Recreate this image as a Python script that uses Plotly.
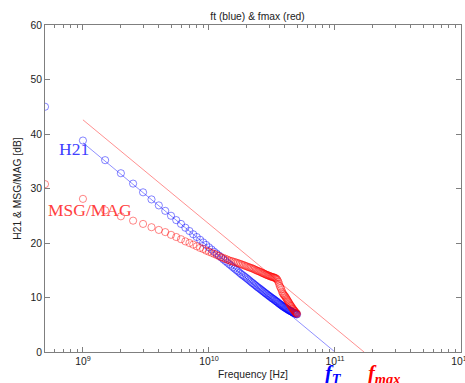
import plotly.graph_objects as go

# Frequencies in GHz (0.5 GHz steps)
freq_ghz = [0.5, 1.0, 1.5, 2.0, 2.5, 3.0, 3.5, 4.0, 4.5, 5.0,
            5.5, 6.0, 6.5, 7.0, 7.5, 8.0, 8.5, 9.0, 9.5, 10.0,
            10.5, 11.0, 11.5, 12.0, 12.5, 13.0, 13.5, 14.0, 14.5, 15.0,
            15.5, 16.0, 16.5, 17.0, 17.5, 18.0, 18.5, 19.0, 19.5, 20.0,
            20.5, 21.0, 21.5, 22.0, 22.5, 23.0, 23.5, 24.0, 24.5, 25.0,
            25.5, 26.0, 26.5, 27.0, 27.5, 28.0, 28.5, 29.0, 29.5, 30.0,
            30.5, 31.0, 31.5, 32.0, 32.5, 33.0, 33.5, 34.0, 34.5, 35.0,
            35.5, 36.0, 36.5, 37.0, 37.5, 38.0, 38.5, 39.0, 39.5, 40.0,
            40.5, 41.0, 41.5, 42.0, 42.5, 43.0, 43.5, 44.0, 44.5, 45.0,
            45.5, 46.0, 46.5, 47.0, 47.5, 48.0, 48.5, 49.0, 49.5, 50.0]

h21_db = [45.0, 38.8, 35.2, 32.8, 30.9, 29.3, 28.0, 26.9, 25.9, 25.0,
          24.2, 23.5, 22.8, 22.2, 21.6, 21.1, 20.6, 20.1, 19.65, 19.2,
          18.8, 18.4, 18.05, 17.7, 17.35, 17.0, 16.7, 16.4, 16.1, 15.85,
          15.55, 15.3, 15.05, 14.8, 14.55, 14.3, 14.1, 13.9, 13.7, 13.5,
          13.3, 13.1, 12.9, 12.7, 12.55, 12.35, 12.2, 12.0, 11.85, 11.7,
          11.55, 11.4, 11.25, 11.1, 10.95, 10.8, 10.7, 10.55, 10.4, 10.3,
          10.15, 10.05, 9.9, 9.8, 9.7, 9.6, 9.45, 9.35, 9.25, 9.15,
          9.0, 8.9, 8.8, 8.7, 8.6, 8.5, 8.4, 8.3, 8.25, 8.15,
          8.05, 8.0, 7.9, 7.85, 7.75, 7.7, 7.6, 7.55, 7.5, 7.45,
          7.4, 7.3, 7.25, 7.2, 7.15, 7.1, 7.05, 7.0, 6.95, 6.9]

msg_mag_db = [30.8, 28.1, 26.0, 24.9, 24.1, 23.5, 22.9, 22.4, 22.0, 21.5,
              21.1, 20.7, 20.3, 20.0, 19.7, 19.4, 19.1, 18.9, 18.6, 18.4,
              18.2, 18.0, 17.8, 17.6, 17.4, 17.25, 17.1, 16.95, 16.8, 16.7,
              16.6, 16.5, 16.4, 16.3, 16.2, 16.1, 16.0, 15.9, 15.8, 15.7,
              15.6, 15.5, 15.45, 15.35, 15.25, 15.15, 15.05, 14.95, 14.85, 14.8,
              14.7, 14.6, 14.5, 14.45, 14.35, 14.25, 14.2, 14.1, 14.05, 14.0,
              13.9, 13.85, 13.8, 13.75, 13.7, 13.65, 13.6, 13.5, 13.4, 13.2,
              12.9, 12.5, 12.1, 11.8, 11.5, 11.1, 10.8, 10.6, 10.4, 10.3,
              10.1, 9.9, 9.7, 9.5, 9.3, 9.1, 8.9, 8.7, 8.5, 8.4,
              8.2, 8.0, 7.9, 7.7, 7.6, 7.5, 7.3, 7.2, 7.1, 7.0]

# Extrapolation lines (-20 dB/dec fits)
ft_line_hz = [1e9, 1e11]
ft_line_db = [38.4, 0.0]
fmax_line_hz = [1e9, 1.7e11]
fmax_line_db = [42.6, 0.0]

x_tick_vals = [1e9, 1e10, 1e11, 1e12]
x_tick_text = ["10<sup>9</sup>", "10<sup>10</sup>", "10<sup>11</sup>", "10<sup>12</sup>"]
y_tick_vals = [0, 10, 20, 30, 40, 50, 60]

freq_hz = [f * 1e9 for f in freq_ghz]

BLUE = "rgba(0,0,255,0.6)"
RED = "rgba(255,0,0,0.6)"

fig = go.Figure()
fig.add_trace(go.Scatter(x=ft_line_hz, y=ft_line_db, mode="lines",
                         line=dict(color="rgba(80,80,255,0.8)", width=0.8),
                         showlegend=False, hoverinfo="skip"))
fig.add_trace(go.Scatter(x=fmax_line_hz, y=fmax_line_db, mode="lines",
                         line=dict(color="rgba(255,80,80,0.8)", width=0.8),
                         showlegend=False, hoverinfo="skip"))
fig.add_trace(go.Scatter(x=freq_hz, y=h21_db, mode="markers", name="H21",
                         marker=dict(symbol="circle-open", size=7.2,
                                     color=BLUE, line=dict(width=0.8, color=BLUE)),
                         showlegend=False))
fig.add_trace(go.Scatter(x=freq_hz, y=msg_mag_db, mode="markers", name="MSG/MAG",
                         marker=dict(symbol="circle-open", size=7.2,
                                     color=RED, line=dict(width=0.8, color=RED)),
                         showlegend=False))

minor_x = [m * 10 ** e for e in range(8, 12) for m in range(2, 10)]
minor_x = [v for v in minor_x if v > 5e8]

axis_col = "#7f7f7f"
fig.update_xaxes(type="log", range=[8.69897, 12.0],
                 tickvals=x_tick_vals, ticktext=x_tick_text,
                 ticks="inside", ticklen=5, tickcolor=axis_col,
                 showline=True, linecolor=axis_col, linewidth=1, mirror="allticks",
                 showgrid=False, zeroline=False,
                 minor=dict(ticks="inside", ticklen=3, tickcolor=axis_col,
                            tickvals=minor_x, showgrid=False),
                 tickfont=dict(family="Liberation Sans", size=10.3, color="#222"),
                 title=dict(text="Frequency [Hz]", standoff=4,
                            font=dict(family="Liberation Sans", size=10.3, color="#222")))
fig.update_yaxes(range=[0, 60], tickvals=y_tick_vals,
                 ticks="inside", ticklen=5, tickcolor=axis_col,
                 showline=True, linecolor=axis_col, linewidth=1, mirror="allticks",
                 showgrid=False, zeroline=False,
                 tickfont=dict(family="Liberation Sans", size=10.3, color="#222"),
                 title=dict(text="H21 & MSG/MAG [dB]", standoff=6,
                            font=dict(family="Liberation Sans", size=10.3, color="#222")))

fig.add_annotation(text="H21", xref="paper", yref="paper", x=0.0704, y=0.621,
                   showarrow=False, xanchor="center", yanchor="middle",
                   font=dict(family="Liberation Serif", size=17.5, color="#4040ff"))
fig.add_annotation(text="MSG/MAG", xref="paper", yref="paper", x=0.109, y=0.434,
                   showarrow=False, xanchor="center", yanchor="middle",
                   font=dict(family="Liberation Serif", size=17.5, color="#ff4040"))
fig.add_annotation(text="<b><i>f<sub>T</sub></i></b>", xref="paper", yref="paper",
                   x=0.694, y=-0.07, showarrow=False, xanchor="center", yanchor="middle",
                   font=dict(family="Liberation Serif", size=20.5, color="#0000ff"))
fig.add_annotation(text="<b><i>f<sub>max</sub></i></b>", xref="paper", yref="paper",
                   x=0.815, y=-0.07, showarrow=False, xanchor="center", yanchor="middle",
                   font=dict(family="Liberation Serif", size=20.5, color="#ff0000"))

fig.update_layout(
    width=481, height=389, autosize=False,
    margin=dict(l=44.5, r=10.3, t=25.4, b=31.5),
    paper_bgcolor="white", plot_bgcolor="white",
    title=dict(text="ft (blue) & fmax (red)", x=0.5355, xanchor="center",
               y=0.958, yanchor="middle",
               font=dict(family="Liberation Sans", size=10.3, color="#222")),
    showlegend=False,
)

fig.write_html("out.html", config={"displayModeBar": False},
               post_script="document.body.style.margin='0px';document.body.style.overflow='hidden';")
